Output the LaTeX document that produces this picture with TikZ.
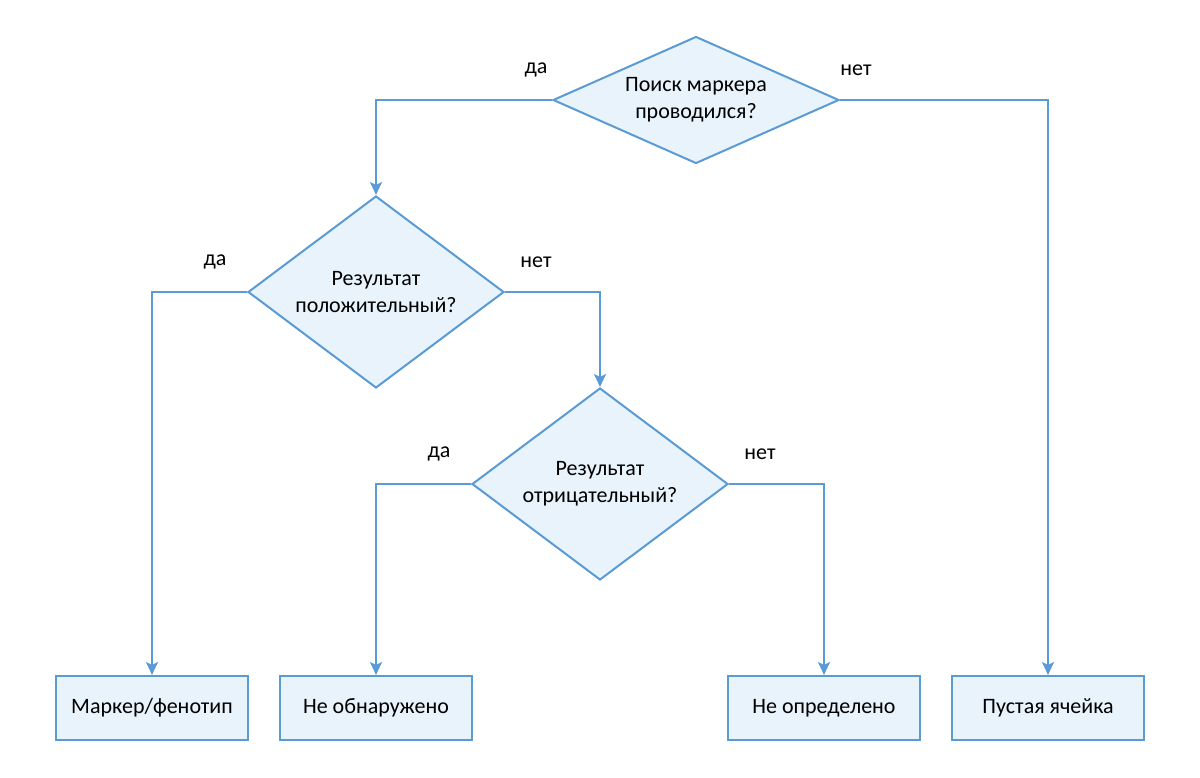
\documentclass[tikz,border=0pt]{standalone}
\usepackage{fontspec}
\setmainfont{Carlito}
\usetikzlibrary{shapes.geometric,arrows.meta}
\definecolor{edge}{HTML}{5B9BD5}
\definecolor{fillc}{HTML}{E8F3FC}
\begin{document}
\begin{tikzpicture}[x=1pt,y=-1pt,
  decision/.style={diamond,draw=edge,fill=fillc,line width=2pt,inner sep=0pt,align=center,font=\fontsize{22}{27}\selectfont},
  outbox/.style={rectangle,draw=edge,fill=fillc,line width=2pt,minimum width=192pt,minimum height=64pt,inner sep=0pt,font=\fontsize{22}{27}\selectfont},
  conn/.style={draw=edge,line width=2pt,-{Stealth[length=13pt,width=12pt,inset=3pt]}},
  lbl/.style={font=\fontsize{22}{27}\selectfont,inner sep=0pt}]
\useasboundingbox (0,0) rectangle (1200,777);
\node[decision,aspect=2.252,minimum width=286pt,minimum height=127pt] (d1) at (696,100) {Поиск маркера\\проводился?};
\node[decision,aspect=1.333,minimum width=256pt,minimum height=192pt] (d2) at (376,292) {Результат\\положительный?};
\node[decision,aspect=1.333,minimum width=256pt,minimum height=192pt] (d3) at (600,484) {Результат\\отрицательный?};
\node[outbox] (b1) at (152,708) {Маркер/фенотип};
\node[outbox] (b2) at (376,708) {Не обнаружено};
\node[outbox] (b3) at (824,708) {Не определено};
\node[outbox] (b4) at (1048,708) {Пустая ячейка};
\draw[conn] (d1.west) -| (d2.north);
\draw[conn] (d1.east) -| (b4.north);
\draw[conn] (d2.west) -| (b1.north);
\draw[conn] (d2.east) -| (d3.north);
\draw[conn] (d3.west) -| (b2.north);
\draw[conn] (d3.east) -| (b3.north);
\node[lbl] (l1) at (536,70) {да};
\node[lbl] (l2) at (856,70) {нет};
\node[lbl] (l3) at (215,262) {да};
\node[lbl] (l4) at (536,262) {нет};
\node[lbl] (l5) at (439,454) {да};
\node[lbl] (l6) at (760,454) {нет};
\end{tikzpicture}
\end{document}
